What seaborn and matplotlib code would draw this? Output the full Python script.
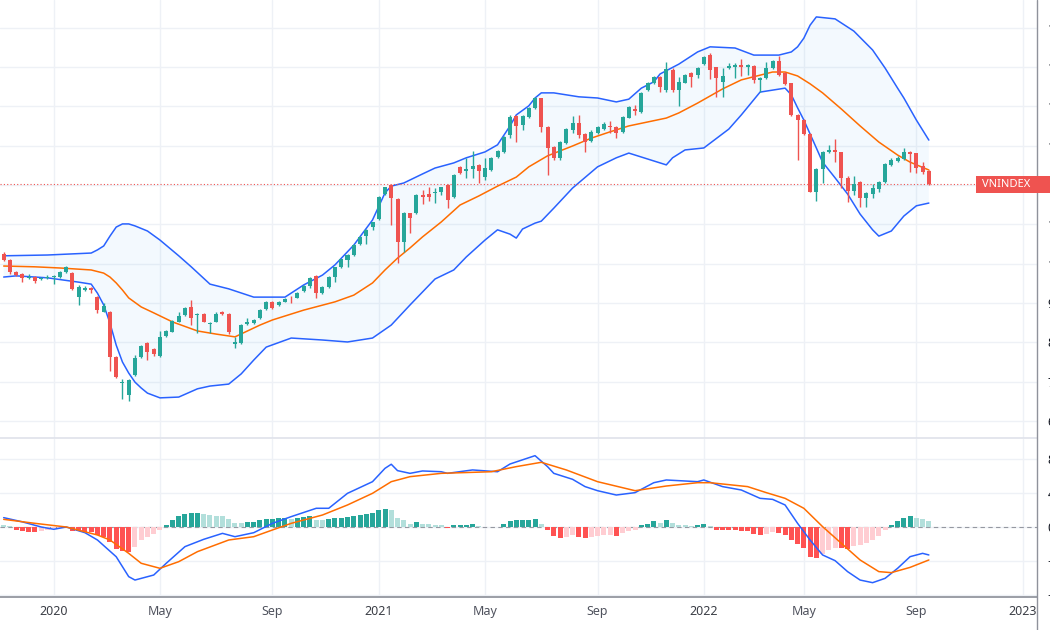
import numpy as np
import pandas as pd
import matplotlib
matplotlib.use('Agg')
import matplotlib.pyplot as plt
import seaborn as sns
from matplotlib.lines import Line2D
from matplotlib.patches import Rectangle

# weekly VNINDEX candles, first bar = week of 11 Nov 2019 (ten bars per row)
opens = [1025, 1009, 980, 974, 964, 966, 960, 964, 965, 966,
         979, 977, 916, 933, 939, 916, 878, 878, 762, 697,
         666, 717, 763, 798, 783, 765, 817, 827, 853, 870,
         889, 870, 873, 847, 853, 878, 873, 797, 798, 847,
         850, 862, 885, 903, 895, 903, 914, 914, 931, 943,
         969, 925, 941, 965, 991, 1009, 1022, 1050, 1071, 1093,
         1113, 1177, 1200, 1164, 1054, 1128, 1128, 1175, 1177, 1180,
         1183, 1200, 1169, 1245, 1236, 1240, 1251, 1221, 1238, 1270,
         1285, 1327, 1375, 1352, 1373, 1395, 1420, 1347, 1297, 1268,
         1307, 1340, 1358, 1329, 1312, 1331, 1342, 1350, 1348, 1335,
         1371, 1392, 1386, 1441, 1458, 1474, 1441, 1492, 1441, 1460,
         1484, 1479, 1507, 1530, 1499, 1462, 1496, 1499, 1505, 1499,
         1502, 1467, 1471, 1496, 1516, 1484, 1458, 1378, 1365, 1329,
         1183, 1241, 1283, 1289, 1283, 1217, 1185, 1207, 1168, 1177,
         1191, 1207, 1251, 1261, 1266, 1283, 1280, 1249, 1235]
highs = [1030, 1012, 981, 976, 974, 969, 966, 971, 971, 981,
         994, 979, 946, 943, 941, 918, 900, 880, 765, 707,
         707, 768, 793, 801, 786, 829, 831, 857, 878, 890,
         908, 875, 875, 852, 878, 880, 875, 814, 847, 862,
         860, 885, 905, 905, 904, 912, 918, 927, 946, 965,
         970, 942, 969, 992, 1013, 1025, 1050, 1070, 1088, 1106,
         1171, 1196, 1202, 1166, 1131, 1130, 1177, 1187, 1196, 1192,
         1196, 1202, 1228, 1247, 1268, 1287, 1253, 1268, 1272, 1289,
         1324, 1378, 1378, 1378, 1397, 1424, 1422, 1349, 1299, 1312,
         1344, 1375, 1378, 1332, 1340, 1349, 1361, 1363, 1350, 1374,
         1401, 1403, 1435, 1462, 1476, 1476, 1513, 1497, 1475, 1482,
         1486, 1499, 1528, 1535, 1501, 1496, 1511, 1509, 1519, 1507,
         1505, 1474, 1513, 1518, 1528, 1486, 1460, 1380, 1368, 1331,
         1243, 1286, 1302, 1317, 1285, 1224, 1224, 1209, 1181, 1202,
         1209, 1255, 1268, 1274, 1293, 1286, 1282, 1259, 1238]
lows = [1007, 974, 969, 953, 961, 951, 959, 961, 948, 964,
        976, 933, 895, 931, 926, 875, 877, 726, 710, 656,
        652, 715, 760, 755, 765, 763, 814, 826, 852, 867,
        843, 825, 851, 825, 852, 870, 822, 786, 797, 843,
        847, 860, 882, 885, 892, 902, 900, 913, 929, 938,
        914, 923, 939, 953, 989, 992, 1019, 1047, 1050, 1086,
        1111, 1175, 1098, 1001, 1030, 1077, 1126, 1152, 1158, 1153,
        1175, 1141, 1167, 1228, 1217, 1217, 1204, 1212, 1235, 1268,
        1282, 1319, 1310, 1340, 1371, 1393, 1335, 1225, 1263, 1263,
        1305, 1331, 1319, 1285, 1310, 1329, 1340, 1331, 1319, 1333,
        1369, 1378, 1384, 1439, 1457, 1437, 1437, 1436, 1401, 1458,
        1450, 1471, 1505, 1468, 1424, 1424, 1494, 1471, 1477, 1479,
        1458, 1437, 1469, 1495, 1478, 1454, 1375, 1263, 1327, 1181,
        1159, 1204, 1281, 1259, 1193, 1157, 1175, 1145, 1145, 1168,
        1181, 1205, 1249, 1259, 1263, 1232, 1230, 1227, 1200]
closes = [1009, 980, 971, 964, 966, 956, 964, 966, 969, 980,
          992, 936, 941, 939, 933, 882, 893, 763, 711, 700,
          704, 760, 791, 776, 770, 814, 829, 854, 867, 888,
          863, 871, 853, 850, 873, 872, 827, 802, 843, 853,
          857, 882, 903, 887, 902, 910, 912, 925, 943, 963,
          925, 940, 967, 991, 1011, 1022, 1047, 1069, 1086, 1105,
          1169, 1194, 1166, 1055, 1128, 1115, 1175, 1169, 1169, 1183,
          1194, 1162, 1225, 1230, 1240, 1248, 1236, 1242, 1268, 1287,
          1322, 1373, 1350, 1375, 1395, 1420, 1347, 1293, 1268, 1310,
          1341, 1358, 1327, 1310, 1335, 1347, 1355, 1347, 1333, 1372,
          1397, 1389, 1433, 1458, 1474, 1450, 1494, 1441, 1462, 1479,
          1474, 1496, 1526, 1492, 1471, 1477, 1502, 1505, 1500, 1505,
          1467, 1471, 1496, 1516, 1479, 1456, 1378, 1365, 1329, 1183,
          1241, 1283, 1289, 1283, 1217, 1185, 1202, 1168, 1179, 1193,
          1207, 1252, 1263, 1269, 1283, 1278, 1242, 1234, 1202]

# Bollinger bands (20, 2), read at the bars listed
upper_bars = [0, 7, 14, 15, 16, 17, 18, 19, 20, 21, 23, 25, 28, 30, 33, 36, 40, 43, 45, 48,
              51, 53, 56, 59, 61, 62, 64, 67, 69, 72, 74, 77, 79, 81, 82, 84, 85, 86, 88, 92,
              95, 98, 100, 102, 104, 105, 108, 111, 113, 117, 120, 124, 126, 127, 128, 129,
              130, 133, 136, 139, 141, 143, 144, 146, 148]
bb_upper = [1020, 1022, 1027, 1035, 1045, 1070, 1093, 1101, 1101, 1096, 1083, 1060, 1020,
            992, 948, 936, 915, 915, 915, 946, 971, 997, 1047, 1111, 1180, 1197, 1205, 1228,
            1243, 1256, 1269, 1284, 1302, 1350, 1378, 1401, 1421, 1434, 1434, 1424, 1421,
            1411, 1418, 1446, 1462, 1482, 1507, 1538, 1551, 1548, 1530, 1530, 1538, 1551,
            1573, 1606, 1627, 1622, 1591, 1543, 1497, 1446, 1421, 1365, 1314]
basis_bars = [0, 5, 9, 14, 16, 17, 18, 19, 20, 22, 24, 27, 31, 34, 37, 39, 41, 43, 48, 53,
              56, 59, 61, 63, 65, 67, 70, 73, 76, 79, 82, 84, 87, 91, 94, 97, 100, 103, 106,
              108, 111, 115, 118, 121, 123, 125, 127, 129, 131, 134, 137, 140, 143, 145, 148]
bb_basis = [994, 992, 989, 984, 976, 966, 951, 933, 913, 890, 875, 852, 829, 821, 814, 829,
            844, 857, 882, 903, 920, 951, 984, 1014, 1040, 1068, 1106, 1149, 1172, 1197,
            1220, 1246, 1274, 1299, 1319, 1335, 1350, 1360, 1370, 1383, 1408, 1444, 1467,
            1479, 1487, 1487, 1477, 1457, 1434, 1393, 1350, 1309, 1276, 1258, 1238]
lower_bars = [0, 2, 7, 12, 14, 15, 16, 17, 18, 19, 20, 21, 22, 23, 25, 28, 31, 33, 36, 38,
              40, 42, 46, 51, 55, 59, 62, 65, 69, 72, 74, 77, 79, 81, 82, 83, 85, 86, 88, 91,
              95, 98, 100, 102, 104, 106, 107, 109, 112, 116, 118, 121, 123, 125, 126, 127,
              128, 130, 131, 133, 135, 137, 139, 140, 142, 144, 146, 148]
bb_lower = [966, 969, 964, 953, 948, 925, 895, 849, 793, 750, 722, 699, 684, 671, 659, 661,
            682, 689, 694, 720, 755, 788, 811, 806, 801, 811, 844, 895, 961, 984, 1017, 1060,
            1086, 1075, 1065, 1088, 1103, 1108, 1141, 1192, 1246, 1269, 1281, 1271, 1261,
            1251, 1269, 1289, 1294, 1342, 1378, 1436, 1441, 1446, 1429, 1396, 1365, 1294,
            1258, 1218, 1177, 1126, 1086, 1070, 1083, 1121, 1147, 1154]

# MACD (12, 26, 9)
macd_bars = [0, 3, 6, 8, 10, 13, 15, 18, 20, 21, 24, 26, 29, 32, 35, 37, 40, 43, 46, 50,
             52, 55, 59, 61, 62, 63, 65, 67, 70, 71, 75, 79, 81, 85, 87, 88, 91, 93, 95, 98,
             101, 104, 106, 111, 112, 115, 118, 121, 123, 125, 127, 129, 131, 133, 135, 137,
             139, 141, 143, 145, 147, 148]
macd_line = [11, 6, 0, -2.7, 0, -6.7, -15.3, -35, -58.4, -62.4, -56.5, -42.7, -23.1, -14.5,
             -7.5, -11.4, -6.7, 4.3, 12.2, 22, 22, 39.6, 53.3, 69, 73.8, 66.3, 63.1, 65.9,
             65, 63.1, 67.1, 65, 74.1, 83.9, 71, 63.1, 56.1, 47.5, 42.7, 37.6, 40.4, 52.1,
             55.3, 53.3, 55.3, 47.5, 43.5, 33.7, 32.5, 25.9, 4.3, -15.3, -32.9, -39.6, -52.5,
             -62.4, -65.5, -60.4, -48.6, -34.9, -31, -32.9]
signal_bars = [0, 5, 10, 15, 17, 20, 22, 25, 28, 31, 36, 40, 43, 46, 51, 55, 59, 62, 65, 70,
               78, 82, 86, 90, 95, 101, 106, 111, 113, 119, 122, 125, 128, 131, 134, 137,
               140, 142, 145, 148]
signal_line = [9, 4.3, 0, -9.4, -15.3, -31, -42.7, -48.6, -40.8, -29, -15.3, -11.4, -3.5,
               4.3, 14.1, 25.9, 39.6, 53.3, 59.2, 63.1, 65, 71, 76.1, 67.1, 53.3, 42.7, 48.2,
               52.1, 52.1, 47.5, 40.4, 33.7, 22, 0.4, -19.2, -38.8, -52.5, -53.7, -47.5, -38.8]
macd_hist = [2.0, 0.8, -3.0, -4.7, -5.9, -6.1, -4.7, -3.0, -1.0, -0.6,
             -0.3, -4.7, -4.9, -5.9, -6.1, -9.0, -11.8, -17.6, -25.5, -28.6,
             -29.4, -23.5, -15.7, -11.8, -8.6, -3.1, 2.7, 7.8, 12.5, 15.7,
             16.3, 16.6, 14.9, 13.7, 13.3, 12.5, 9.0, 4.7, 4.5, 5.9,
             6.3, 7.8, 9.4, 9.8, 10.0, 10.2, 9.8, 11.0, 11.8, 12.5,
             8.6, 8.3, 9.8, 10.6, 11.0, 11.8, 12.9, 14.5, 14.9, 16.5,
             19.6, 21.6, 19.6, 10.6, 7.8, 3.9, 5.9, 3.9, 3.1, 2.4,
             2.2, -1.2, 2.0, 2.7, 2.9, 3.1, 1.6, -0.4, -0.2, 0.5,
             3.1, 7.6, 7.8, 8.0, 8.6, 9.8, 3.1, -3.9, -11.0, -12.9,
             -11.8, -9.8, -11.8, -12.9, -11.8, -11.0, -10.0, -9.8, -10.6, -7.1,
             -4.7, -3.9, 2.0, 3.9, 7.1, 5.1, 7.8, 4.7, 2.7, 2.0,
             1.6, 2.0, 3.1, 1.2, -3.1, -3.9, -4.0, -4.1, -4.7, -4.9,
             -8.6, -9.4, -7.8, -5.9, -7.1, -9.8, -15.7, -19.6, -24.3, -35.3,
             -36.1, -31.4, -27.5, -24.3, -25.0, -25.5, -22.7, -21.6, -18.8, -15.7,
             -11.0, -3.9, 2.7, 6.7, 10.6, 12.5, 11.0, 9.0, 6.7]

tick_bars = [8, 25, 43, 60, 77, 95, 112, 128, 146, 163]
tick_labels = ['2020', 'May', 'Sep', '2021', 'May', 'Sep', '2022', 'May', 'Sep', '2023']
price_ticks = list(range(600, 1700, 100))
macd_ticks = [-80, -40, 0, 40, 80]

UP, DOWN = '#26a69a', '#ef5350'
BLUE, ORANGE = '#2962ff', '#ff6d00'
GRID = '#eef1f6'
AXIS = '#8f929b'

sns.set_theme(style='white')
plt.rcParams['font.family'] = ['Noto Sans', 'DejaVu Sans']

W, H = 1050, 630
fig = plt.figure(figsize=(W / 100, H / 100), dpi=100)


def box(x0, y0, x1, y1):
    return [x0 / W, 1 - y1 / H, (x1 - x0) / W, (y1 - y0) / H]


ax = fig.add_axes(box(0, 0, 1037, 438))
axm = fig.add_axes(box(0, 439, 1037, 597), sharex=ax)

df = pd.DataFrame({'open': opens, 'high': highs, 'low': lows, 'close': closes})
df['bar'] = np.arange(len(df))
colors = np.where(df['close'] >= df['open'], UP, DOWN)

# price pane: band fill polygon (upper forwards, lower backwards)
ax.fill(np.r_[upper_bars, lower_bars[::-1]], np.r_[bb_upper, bb_lower[::-1]],
        color='#2196f3', alpha=0.05, lw=0)
sns.lineplot(x=upper_bars, y=bb_upper, ax=ax, color=BLUE, linewidth=1.1)
sns.lineplot(x=lower_bars, y=bb_lower, ax=ax, color=BLUE, linewidth=1.1)
sns.lineplot(x=basis_bars, y=bb_basis, ax=ax, color=ORANGE, linewidth=1.1)

ax.vlines(df['bar'], df['low'], df['high'], colors=colors, linewidth=1, zorder=3)
body = (df['close'] - df['open']).abs().clip(lower=1.5)
ax.bar(df['bar'], body, bottom=df[['open', 'close']].min(axis=1), width=0.64,
       color=colors, linewidth=0, zorder=4)
ax.axhline(closes[-1], color=DOWN, linewidth=0.8, linestyle=(0, (1, 2)), zorder=2)

# macd pane
hist = pd.Series(macd_hist)
rising = hist > hist.shift(1)
hist_colors = np.select([(hist >= 0) & rising, hist >= 0, ~rising],
                        ['#26a69a', '#b2dfdb', '#ff5252'], '#ffcdd2')
axm.axhline(0, color='#9598a1', linewidth=0.8, linestyle=(0, (4, 3)), zorder=1)
axm.bar(np.arange(len(hist)), hist, width=0.8, color=hist_colors, linewidth=0, zorder=2)
sns.lineplot(x=macd_bars, y=macd_line, ax=axm, color=BLUE, linewidth=1.1)
sns.lineplot(x=signal_bars, y=signal_line, ax=axm, color=ORANGE, linewidth=1.1)

ax.set_xlim(-0.59, 165.3)
ax.set_ylim(557, 1670)
axm.set_ylim(-82.35, 103.5)

for a, ticks in ((ax, price_ticks), (axm, macd_ticks)):
    a.set_facecolor('white')
    a.set_yticks(ticks)
    a.set_xticks(tick_bars)
    a.grid(True, color=GRID, linewidth=1, zorder=0)
    a.set_axisbelow(True)
    a.yaxis.tick_right()
    a.tick_params(axis='y', length=0, pad=7.5, labelsize=9, labelcolor='#131722',
                  left=False, labelleft=False, right=True, labelright=True)
    a.set_xlabel('')
    a.set_ylabel('')
    for s in ('top', 'left', 'right'):
        a.spines[s].set_visible(False)

ax.spines['bottom'].set_color('#e0e3eb')
ax.tick_params(axis='x', length=0, labelbottom=False)
axm.spines['bottom'].set_color(AXIS)
axm.set_xticklabels(tick_labels)
axm.tick_params(axis='x', length=0, pad=6, labelsize=9)
for lab in axm.get_xticklabels():
    if lab.get_text().isdigit():
        lab.set_fontweight('bold')
        lab.set_color('#3b3e46')
    else:
        lab.set_color('#50535e')

# right price scale border
fig.add_artist(Line2D([1037 / W, 1037 / W], [0, 1], transform=fig.transFigure,
                      color=AXIS, linewidth=1))

# last price label, running off the right edge like the reference
fig.add_artist(Rectangle((976 / W, 1 - 193 / H), 80 / W, 17 / H,
                         transform=fig.transFigure, fc=DOWN, ec='none', zorder=5))
fig.text(982 / W, 1 - 184.5 / H, 'VNINDEX', color='white', fontsize=8, fontweight='bold',
         ha='left', va='center', zorder=6)

fig.savefig('out.png', dpi=100)
